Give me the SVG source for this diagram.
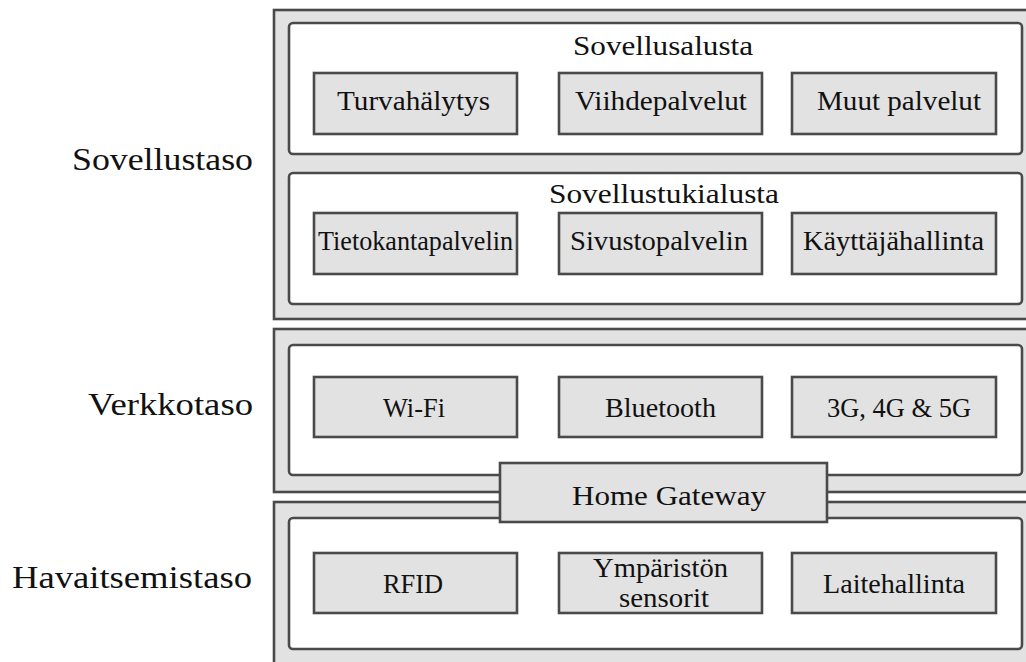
<svg xmlns="http://www.w3.org/2000/svg" width="1026" height="662" viewBox="0 0 1026 662">
<style>
text{font-family:"Liberation Serif","Times New Roman",serif;fill:#111;}
.lbl{font-size:32px;}
.t{font-size:27px;text-anchor:middle;}
.outer{fill:#e2e2e2;stroke:#4a4a4a;stroke-width:2.6;}
.inner{fill:#ffffff;stroke:#4a4a4a;stroke-width:2.6;}
.box{fill:#e2e2e2;stroke:#4a4a4a;stroke-width:2.6;}
</style>
<rect width="1026" height="662" fill="#ffffff"/>
<g id="layer-sovellustaso">
<rect class="outer" x="274" y="10" width="800" height="309"/>
<text class="lbl" x="72" y="170" textLength="181" lengthAdjust="spacingAndGlyphs">Sovellustaso</text>
</g>
<g id="layer-verkkotaso">
<rect class="outer" x="274" y="329" width="800" height="163"/>
<text class="lbl" x="88" y="415" textLength="165" lengthAdjust="spacingAndGlyphs">Verkkotaso</text>
</g>
<g id="layer-havaitsemistaso">
<rect class="outer" x="274" y="502" width="800" height="200"/>
<text class="lbl" x="12" y="588" textLength="240" lengthAdjust="spacingAndGlyphs">Havaitsemistaso</text>
</g>
<g id="sovellusalusta">
<rect class="inner" x="289" y="23" width="733" height="131" rx="4"/>
<text class="t" x="663" y="55" textLength="180" lengthAdjust="spacingAndGlyphs">Sovellusalusta</text>
</g>
<g id="turvahalytys">
<rect class="box" x="314" y="73" width="203" height="61"/>
<text class="t" x="413.5" y="110" textLength="153" lengthAdjust="spacingAndGlyphs">Turvahälytys</text>
</g>
<g id="viihdepalvelut">
<rect class="box" x="559" y="73" width="203" height="61"/>
<text class="t" x="661" y="110" textLength="172" lengthAdjust="spacingAndGlyphs">Viihdepalvelut</text>
</g>
<g id="muut-palvelut">
<rect class="box" x="792" y="73" width="204" height="61"/>
<text class="t" x="899" y="110" textLength="164" lengthAdjust="spacingAndGlyphs">Muut palvelut</text>
</g>
<g id="sovellustukialusta">
<rect class="inner" x="289" y="173" width="733" height="131" rx="4"/>
<text class="t" x="664" y="203" textLength="230" lengthAdjust="spacingAndGlyphs">Sovellustukialusta</text>
</g>
<g id="tietokantapalvelin">
<rect class="box" x="314" y="213" width="203" height="61"/>
<text class="t" x="415.5" y="250" textLength="195" lengthAdjust="spacingAndGlyphs">Tietokantapalvelin</text>
</g>
<g id="sivustopalvelin">
<rect class="box" x="559" y="213" width="203" height="61"/>
<text class="t" x="659" y="250" textLength="178" lengthAdjust="spacingAndGlyphs">Sivustopalvelin</text>
</g>
<g id="kayttajahallinta">
<rect class="box" x="792" y="213" width="204" height="61"/>
<text class="t" x="893.5" y="250" textLength="181" lengthAdjust="spacingAndGlyphs">Käyttäjähallinta</text>
</g>
<g id="verkko-inner">
<rect class="inner" x="289" y="345" width="733" height="130" rx="4"/>
</g>
<g id="wifi">
<rect class="box" x="314" y="377" width="203" height="60"/>
<text class="t" x="414" y="417" textLength="62" lengthAdjust="spacingAndGlyphs">Wi-Fi</text>
</g>
<g id="bluetooth">
<rect class="box" x="559" y="377" width="203" height="60"/>
<text class="t" x="660.5" y="417" textLength="111" lengthAdjust="spacingAndGlyphs">Bluetooth</text>
</g>
<g id="mobile">
<rect class="box" x="792" y="377" width="204" height="60"/>
<text class="t" x="899" y="417" textLength="144" lengthAdjust="spacingAndGlyphs">3G, 4G &amp; 5G</text>
</g>
<g id="havaitsemis-inner">
<rect class="inner" x="289" y="518" width="733" height="131" rx="4"/>
</g>
<g id="rfid">
<rect class="box" x="314" y="553" width="203" height="60"/>
<text class="t" x="413" y="593" textLength="60" lengthAdjust="spacingAndGlyphs">RFID</text>
</g>
<g id="sensorit">
<rect class="box" x="559" y="553" width="203" height="60"/>
<text class="t" x="660.5" y="577" textLength="135" lengthAdjust="spacingAndGlyphs">Ympäristön</text>
<text class="t" x="664" y="607" textLength="90" lengthAdjust="spacingAndGlyphs">sensorit</text>
</g>
<g id="laitehallinta">
<rect class="box" x="792" y="553" width="204" height="60"/>
<text class="t" x="894" y="593" textLength="142" lengthAdjust="spacingAndGlyphs">Laitehallinta</text>
</g>
<g id="home-gateway">
<rect class="box" x="500" y="463" width="327" height="59"/>
<text class="t" x="669" y="505" textLength="194" lengthAdjust="spacingAndGlyphs">Home Gateway</text>
</g>
<g id="connectors"></g>
</svg>
